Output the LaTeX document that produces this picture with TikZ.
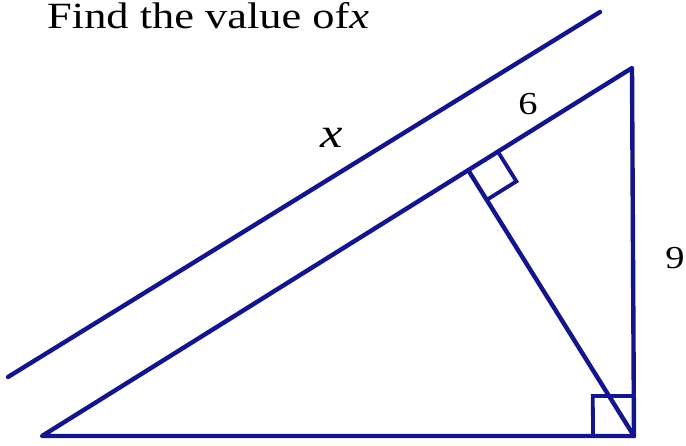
\documentclass[tikz,border=0pt]{standalone}
\usepackage{fontspec}
\setmainfont{Liberation Serif}
\usetikzlibrary{calc}
\definecolor{navyline}{RGB}{20,20,140}
\tikzset{
  geo/.style={draw=navyline, line width=4.4pt, line cap=round, line join=round},
  rtmark/.style={draw=navyline, line width=3.8pt, line join=miter},
  lbl/.style={inner sep=0pt, xscale=1.2, font=\fontsize{32}{36}\selectfont},
  ttl/.style={inner sep=0pt, xscale=1.2, anchor=base west, font=\fontsize{37}{42}\selectfont}
}
\begin{document}
\begin{tikzpicture}[x=1pt, y=-1pt]
\useasboundingbox (0,0) rectangle (686,445);
\coordinate (A) at (42,436);
\coordinate (T) at (632,68);
\coordinate (C) at (634,436);
\coordinate (L1) at (8,377);
\coordinate (L2) at (600,12);
\coordinate (F) at ($(A)!(C)!(T)$);
% long parallel line
\draw[geo] (L1) -- (L2);
% triangle and altitude
\draw[geo] (A) -- (T) -- (C) -- cycle;
\draw[geo] (F) -- (C);
% right angle at foot
\coordinate (P1) at ($(F)!35pt!(T)$);
\coordinate (P2) at ($(F)!35pt!(C)$);
\coordinate (P3) at ($(P1)+(P2)-(F)$);
\draw[rtmark] (P1) -- (P3) -- (P2);
% right angle at C
\coordinate (Q1) at ($(C)!41pt!(A)$);
\coordinate (Q2) at ($(C)!40pt!(T)$);
\coordinate (Q3) at ($(Q1)+(Q2)-(C)$);
\draw[rtmark] (Q1) -- (Q3) -- (Q2);
% labels
\node[ttl] (title) at (47,28) {Find the value of\textit{x}};
\node[lbl, font=\fontsize{42}{46}\selectfont] (lx) at (332,138) {\textit{x}};
\node[lbl] (l6) at (528,104) {6};
\node[lbl] (l9) at (675,258) {9};
\end{tikzpicture}
\end{document}
